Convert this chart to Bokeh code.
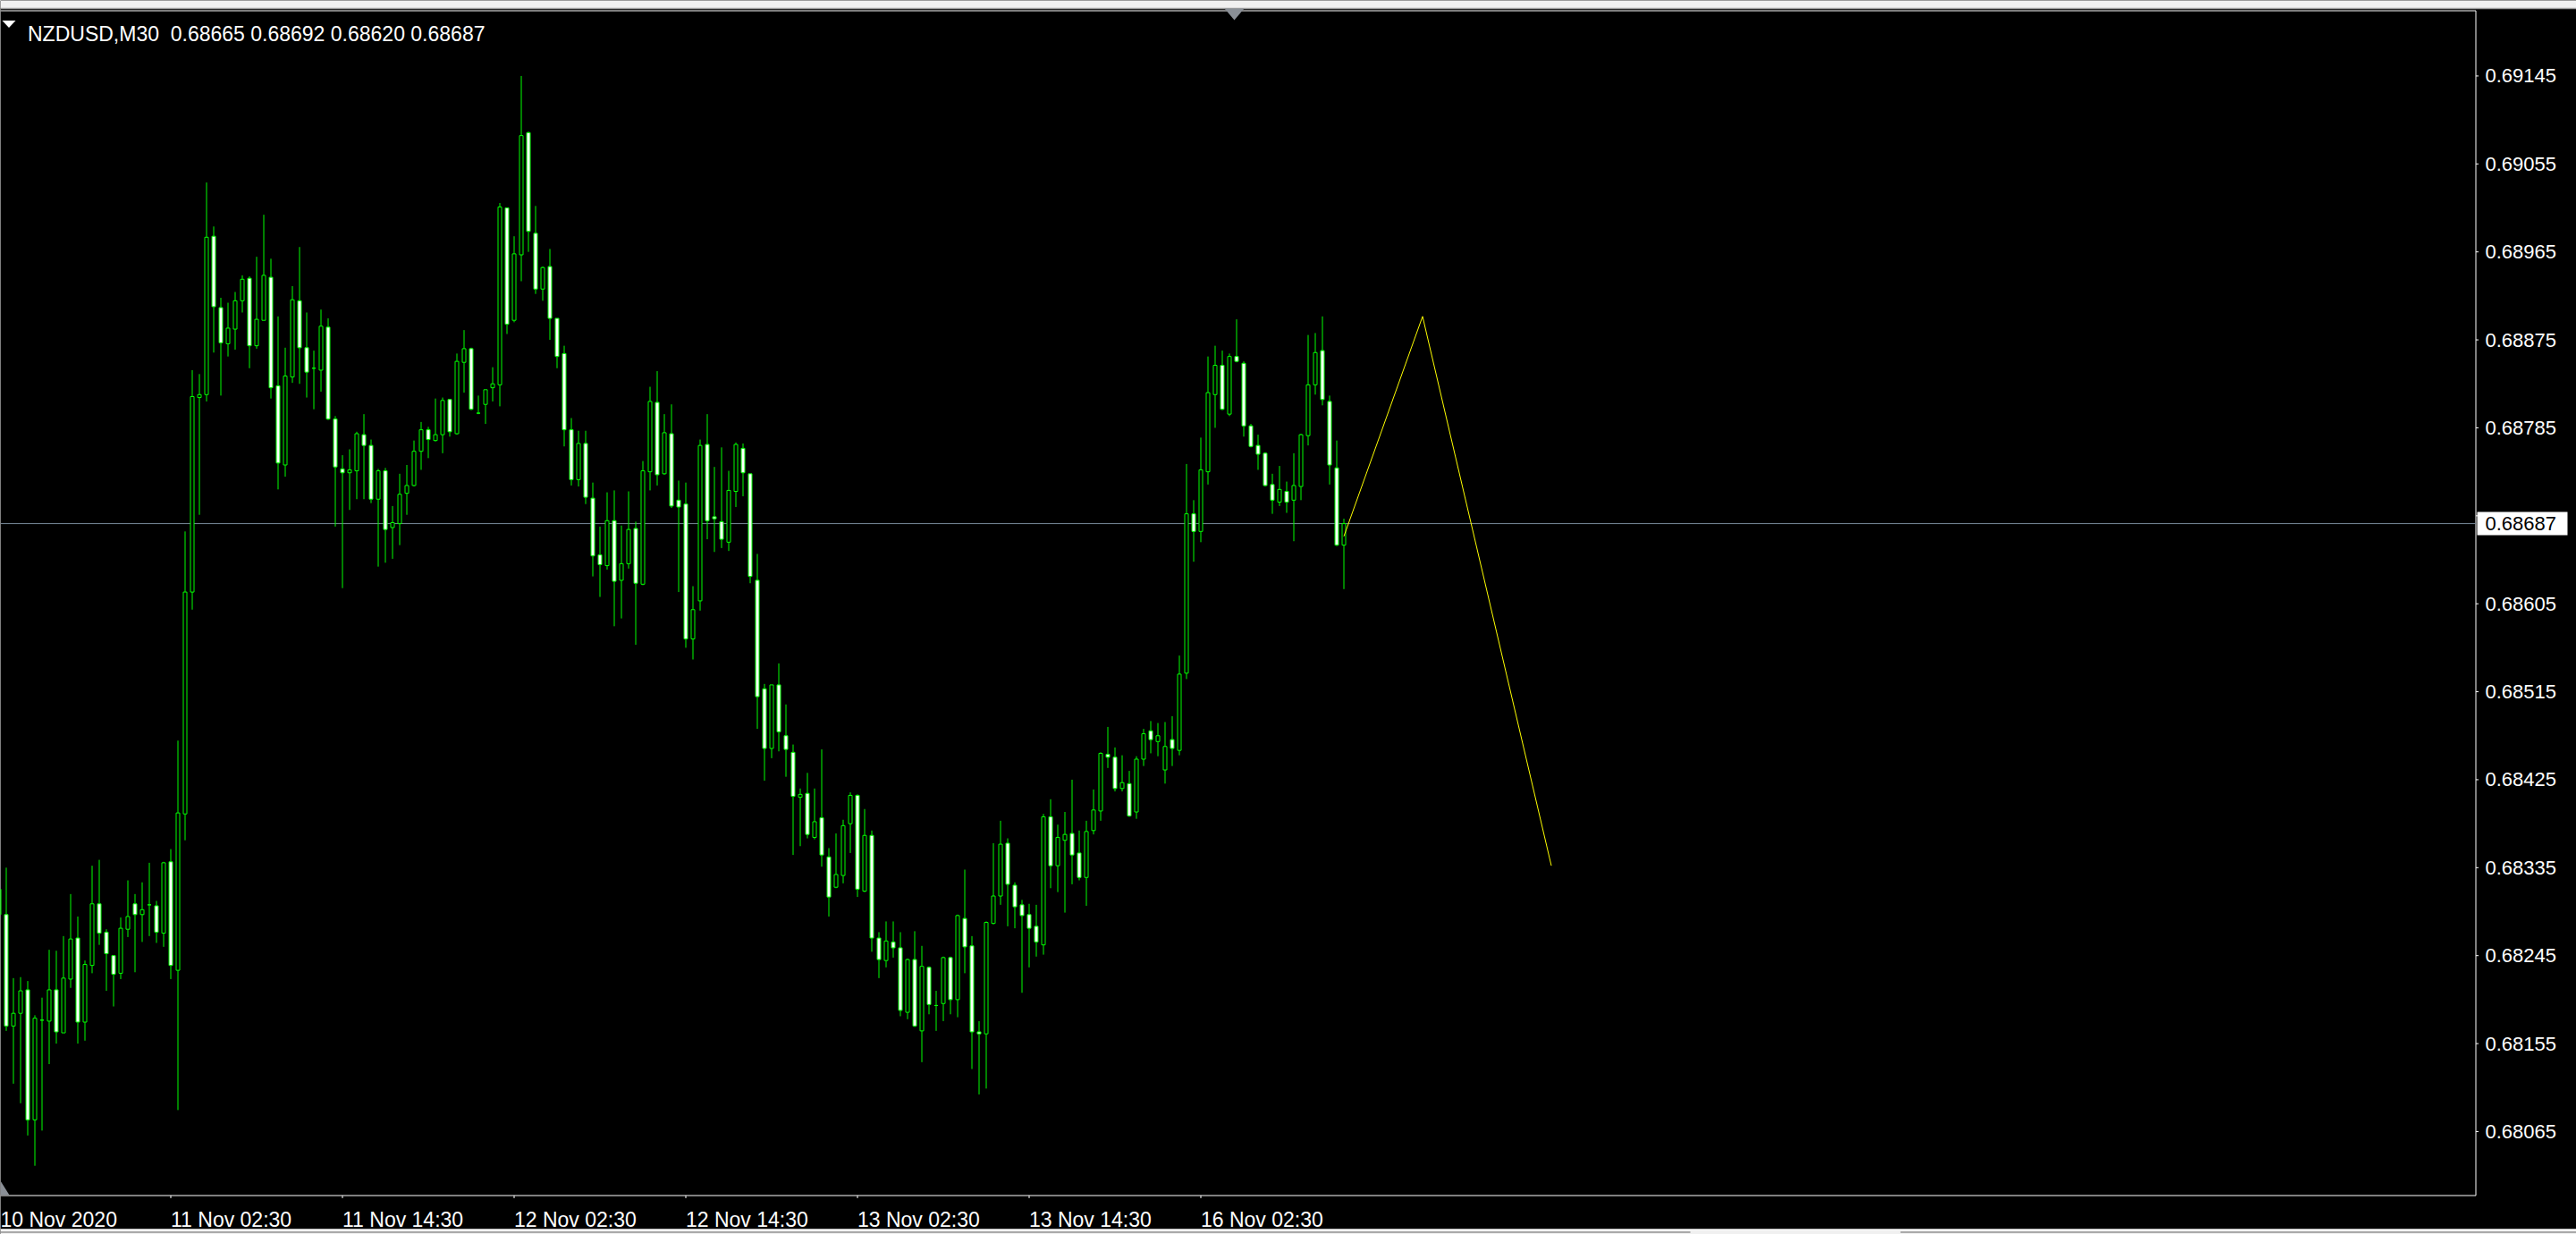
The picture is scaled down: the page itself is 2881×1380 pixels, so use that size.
from bokeh.plotting import figure
from bokeh.models import ColumnDataSource, Range1d
from bokeh.core.properties import value
from bokeh.embed import file_html
from bokeh.resources import INLINE

symbol = "NZDUSD,M30"

opens = [0.68313, 0.68287, 0.68173, 0.68186, 0.68210, 0.68077, 0.68179, 0.68178, 0.68210, 0.68166,
         0.68221, 0.68263, 0.68177, 0.68235, 0.68298, 0.68269, 0.68245, 0.68227, 0.68272, 0.68298,
         0.68287, 0.68297, 0.68296, 0.68268, 0.68341, 0.68230, 0.68390, 0.68617, 0.68816, 0.68819,
         0.68981, 0.68908, 0.68871, 0.68886, 0.68915, 0.68938, 0.68869, 0.68895, 0.68939, 0.68828,
         0.68747, 0.68837, 0.68915, 0.68867, 0.68846, 0.68844, 0.68888, 0.68794, 0.68743, 0.68739,
         0.68741, 0.68778, 0.68767, 0.68712, 0.68741, 0.68683, 0.68687, 0.68718, 0.68726, 0.68761,
         0.68783, 0.68772, 0.68778, 0.68814, 0.68779, 0.68852, 0.68866, 0.68800, 0.68809, 0.68826,
         0.68829, 0.69010, 0.68895, 0.68962, 0.69087, 0.68984, 0.68927, 0.68950, 0.68897, 0.68861,
         0.68783, 0.68732, 0.68769, 0.68713, 0.68655, 0.68644, 0.68690, 0.68629, 0.68646, 0.68682,
         0.68625, 0.68740, 0.68811, 0.68738, 0.68779, 0.68711, 0.68707, 0.68569, 0.68608, 0.68768,
         0.68694, 0.68689, 0.68668, 0.68720, 0.68764, 0.68738, 0.68629, 0.68518, 0.68457, 0.68522,
         0.68470, 0.68453, 0.68407, 0.68411, 0.68366, 0.68386, 0.68346, 0.68315, 0.68327, 0.68380,
         0.68409, 0.68311, 0.68368, 0.68263, 0.68240, 0.68259, 0.68253, 0.68187, 0.68241, 0.68168,
         0.68233, 0.68194, 0.68196, 0.68243, 0.68200, 0.68283, 0.68255, 0.68167, 0.68165, 0.68278,
         0.68306, 0.68360, 0.68317, 0.68297, 0.68287, 0.68275, 0.68256, 0.68387, 0.68337, 0.68363,
         0.68370, 0.68350, 0.68325, 0.68373, 0.68393, 0.68451, 0.68448, 0.68416, 0.68421, 0.68392,
         0.68446, 0.68475, 0.68464, 0.68435, 0.68466, 0.68455, 0.68534, 0.68697, 0.68679, 0.68740,
         0.68819, 0.68849, 0.68799, 0.68858, 0.68851, 0.68787, 0.68767, 0.68759, 0.68727, 0.68709,
         0.68720, 0.68711, 0.68725, 0.68777, 0.68829, 0.68864, 0.68812, 0.68744, 0.68665]

highs = [0.68321, 0.68335, 0.68222, 0.68223, 0.68219, 0.68184, 0.68202, 0.68251, 0.68250, 0.68265,
         0.68308, 0.68285, 0.68240, 0.68337, 0.68343, 0.68272, 0.68245, 0.68284, 0.68322, 0.68308,
         0.68320, 0.68340, 0.68301, 0.68341, 0.68354, 0.68465, 0.68679, 0.68844, 0.68840, 0.69036,
         0.68991, 0.68918, 0.68913, 0.68924, 0.68941, 0.68940, 0.68960, 0.69003, 0.68958, 0.68899,
         0.68867, 0.68930, 0.68970, 0.68903, 0.68864, 0.68906, 0.68897, 0.68797, 0.68757, 0.68763,
         0.68781, 0.68799, 0.68773, 0.68743, 0.68744, 0.68705, 0.68738, 0.68747, 0.68772, 0.68791,
         0.68786, 0.68815, 0.68816, 0.68814, 0.68861, 0.68885, 0.68867, 0.68818, 0.68824, 0.68847,
         0.69015, 0.69010, 0.68981, 0.69145, 0.69088, 0.69012, 0.68950, 0.68968, 0.68897, 0.68869,
         0.68795, 0.68782, 0.68782, 0.68729, 0.68684, 0.68719, 0.68721, 0.68685, 0.68720, 0.68689,
         0.68751, 0.68827, 0.68843, 0.68799, 0.68809, 0.68731, 0.68729, 0.68623, 0.68773, 0.68799,
         0.68745, 0.68765, 0.68741, 0.68770, 0.68769, 0.68738, 0.68656, 0.68523, 0.68522, 0.68544,
         0.68502, 0.68461, 0.68416, 0.68432, 0.68416, 0.68456, 0.68355, 0.68370, 0.68384, 0.68412,
         0.68410, 0.68395, 0.68373, 0.68269, 0.68280, 0.68280, 0.68269, 0.68242, 0.68270, 0.68255,
         0.68234, 0.68209, 0.68244, 0.68244, 0.68287, 0.68333, 0.68265, 0.68178, 0.68280, 0.68360,
         0.68383, 0.68365, 0.68320, 0.68302, 0.68298, 0.68297, 0.68390, 0.68405, 0.68379, 0.68392,
         0.68425, 0.68373, 0.68383, 0.68415, 0.68453, 0.68479, 0.68458, 0.68450, 0.68434, 0.68449,
         0.68477, 0.68485, 0.68483, 0.68484, 0.68490, 0.68552, 0.68748, 0.68711, 0.68775, 0.68858,
         0.68869, 0.68864, 0.68861, 0.68896, 0.68853, 0.68789, 0.68778, 0.68760, 0.68738, 0.68746,
         0.68730, 0.68759, 0.68779, 0.68880, 0.68882, 0.68899, 0.68818, 0.68772, 0.68692]

lows = [0.68280, 0.68168, 0.68114, 0.68094, 0.68061, 0.68030, 0.68066, 0.68134, 0.68155, 0.68166,
        0.68212, 0.68155, 0.68158, 0.68227, 0.68256, 0.68209, 0.68193, 0.68221, 0.68264, 0.68228,
        0.68259, 0.68265, 0.68258, 0.68254, 0.68221, 0.68087, 0.68363, 0.68599, 0.68696, 0.68812,
        0.68862, 0.68818, 0.68858, 0.68865, 0.68903, 0.68846, 0.68866, 0.68895, 0.68815, 0.68722,
        0.68735, 0.68831, 0.68830, 0.68816, 0.68804, 0.68822, 0.68793, 0.68684, 0.68621, 0.68701,
        0.68712, 0.68712, 0.68708, 0.68643, 0.68647, 0.68651, 0.68665, 0.68696, 0.68725, 0.68742,
        0.68754, 0.68771, 0.68759, 0.68776, 0.68778, 0.68821, 0.68803, 0.68799, 0.68789, 0.68812,
        0.68807, 0.68881, 0.68893, 0.68935, 0.68965, 0.68922, 0.68915, 0.68875, 0.68846, 0.68766,
        0.68726, 0.68725, 0.68707, 0.68633, 0.68612, 0.68640, 0.68582, 0.68590, 0.68641, 0.68563,
        0.68624, 0.68721, 0.68726, 0.68737, 0.68703, 0.68617, 0.68560, 0.68548, 0.68598, 0.68671,
        0.68658, 0.68662, 0.68659, 0.68704, 0.68715, 0.68626, 0.68477, 0.68424, 0.68447, 0.68454,
        0.68428, 0.68348, 0.68357, 0.68365, 0.68364, 0.68336, 0.68285, 0.68314, 0.68319, 0.68350,
        0.68305, 0.68310, 0.68249, 0.68222, 0.68233, 0.68243, 0.68183, 0.68180, 0.68172, 0.68136,
        0.68185, 0.68168, 0.68178, 0.68185, 0.68182, 0.68227, 0.68129, 0.68103, 0.68109, 0.68277,
        0.68297, 0.68275, 0.68273, 0.68207, 0.68233, 0.68244, 0.68246, 0.68314, 0.68310, 0.68289,
        0.68318, 0.68322, 0.68296, 0.68369, 0.68383, 0.68437, 0.68413, 0.68413, 0.68387, 0.68385,
        0.68439, 0.68452, 0.68449, 0.68421, 0.68439, 0.68450, 0.68528, 0.68648, 0.68668, 0.68727,
        0.68785, 0.68803, 0.68797, 0.68852, 0.68776, 0.68765, 0.68742, 0.68725, 0.68697, 0.68705,
        0.68698, 0.68669, 0.68711, 0.68767, 0.68819, 0.68808, 0.68727, 0.68664, 0.68620]

closes = [0.68287, 0.68173, 0.68186, 0.68209, 0.68077, 0.68181, 0.68179, 0.68210, 0.68167, 0.68222,
          0.68262, 0.68177, 0.68236, 0.68298, 0.68268, 0.68247, 0.68226, 0.68273, 0.68285, 0.68287,
          0.68292, 0.68297, 0.68269, 0.68340, 0.68235, 0.68391, 0.68617, 0.68817, 0.68819, 0.68980,
          0.68909, 0.68872, 0.68887, 0.68915, 0.68937, 0.68869, 0.68896, 0.68941, 0.68826, 0.68749,
          0.68838, 0.68916, 0.68867, 0.68842, 0.68846, 0.68889, 0.68794, 0.68745, 0.68739, 0.68742,
          0.68779, 0.68767, 0.68712, 0.68741, 0.68681, 0.68688, 0.68717, 0.68726, 0.68761, 0.68783,
          0.68773, 0.68778, 0.68813, 0.68781, 0.68853, 0.68866, 0.68804, 0.68800, 0.68824, 0.68830,
          0.69011, 0.68891, 0.68963, 0.69084, 0.68986, 0.68927, 0.68949, 0.68897, 0.68858, 0.68783,
          0.68732, 0.68769, 0.68714, 0.68654, 0.68645, 0.68690, 0.68628, 0.68646, 0.68681, 0.68626,
          0.68741, 0.68812, 0.68737, 0.68780, 0.68705, 0.68704, 0.68569, 0.68599, 0.68767, 0.68690,
          0.68692, 0.68671, 0.68721, 0.68768, 0.68739, 0.68633, 0.68510, 0.68457, 0.68522, 0.68474,
          0.68456, 0.68408, 0.68410, 0.68369, 0.68382, 0.68348, 0.68305, 0.68328, 0.68378, 0.68409,
          0.68313, 0.68368, 0.68263, 0.68241, 0.68260, 0.68253, 0.68189, 0.68241, 0.68173, 0.68234,
          0.68195, 0.68194, 0.68243, 0.68200, 0.68286, 0.68254, 0.68167, 0.68165, 0.68279, 0.68306,
          0.68359, 0.68318, 0.68295, 0.68286, 0.68273, 0.68259, 0.68387, 0.68337, 0.68366, 0.68369,
          0.68348, 0.68325, 0.68372, 0.68394, 0.68452, 0.68448, 0.68416, 0.68422, 0.68388, 0.68446,
          0.68472, 0.68466, 0.68470, 0.68459, 0.68457, 0.68533, 0.68697, 0.68679, 0.68742, 0.68821,
          0.68849, 0.68804, 0.68858, 0.68853, 0.68787, 0.68766, 0.68758, 0.68726, 0.68711, 0.68722,
          0.68709, 0.68726, 0.68778, 0.68829, 0.68862, 0.68814, 0.68747, 0.68665, 0.68687]

# time axis labels (every 24 bars of 30 minutes)
time_labels = ["10 Nov 2020", "11 Nov 02:30", "11 Nov 14:30", "12 Nov 02:30",
               "12 Nov 14:30", "13 Nov 02:30", "13 Nov 14:30", "16 Nov 02:30"]
label_bars = [0, 24, 48, 72, 96, 120, 144, 168]

# price axis tick labels
price_ticks = [0.69145, 0.69055, 0.68965, 0.68875, 0.68785, 0.68695, 0.68605,
               0.68515, 0.68425, 0.68335, 0.68245, 0.68155, 0.68065]

# yellow projection line
proj_bars = [188, 199, 217]
proj_prices = [0.68674, 0.68899, 0.68337]

# ---------------------------------------------------------------- layout (page pixels)
W, H = 2881, 1380            # Bokeh's page has no body margin: figure fills the window
PPB = 8                      # pixels per bar
X0 = 1.5 / PPB               # bar index at the left page edge
X1 = X0 + W / PPB
KPX = 0.0108 / 1180.5        # price per pixel
Y0 = 0.68000 - (H - 1336) * KPX   # 0.68000 sits on the chart's bottom border
Y1 = Y0 + H * KPX

CHART_R = 2768.5             # right border of chart area
CHART_T = 11.5               # top border
CHART_B = 1336.5             # bottom border


def dx(page_x):
    return X0 + page_x / PPB


def dy(page_y):
    return Y0 + (H - page_y) * KPX


GREEN = "#00ff00"
FONT = value("Liberation Sans")

p = figure(width=W, height=H, output_backend="svg", toolbar_location=None,
           x_range=Range1d(X0, X1), y_range=Range1d(Y0, Y1),
           x_axis_location=None, y_axis_location=None,
           min_border_left=0, min_border_right=0, min_border_top=0, min_border_bottom=0,
           background_fill_color="black", border_fill_color="black",
           outline_line_color=None)
p.grid.visible = False

# window chrome above and below the chart
p.quad(left=[X0], right=[X1], top=[Y1], bottom=[dy(8.5)], fill_color="#f0f0f0", line_color=None)
p.segment(x0=[X0], x1=[X1], y0=[dy(9)], y1=[dy(9)], line_color="#a0a0a0", line_width=1.5)
p.quad(left=[X0], right=[X1], top=[dy(1374)], bottom=[Y0], fill_color="#f0f0f0", line_color=None)
p.segment(x0=[X0], x1=[X1], y0=[dy(1374.5)], y1=[dy(1374.5)], line_color="white", line_width=1)
p.segment(x0=[X0, dx(2125)], x1=[dx(1890), X1], y0=[dy(1377.5)] * 2, y1=[dy(1377.5)] * 2,
          line_color="#646464", line_width=1)

# chart border
p.segment(x0=[X0, dx(CHART_R), X0], y0=[dy(CHART_T), dy(CHART_T), dy(CHART_B)],
          x1=[dx(CHART_R), dx(CHART_R), dx(CHART_R)], y1=[dy(CHART_T), dy(CHART_B), dy(CHART_B)],
          line_color="white", line_width=1)

# current price (bid) line
p.segment(x0=[X0], y0=[closes[-1]], x1=[dx(CHART_R)], y1=[closes[-1]],
          line_color="#778899", line_width=1)

# candles
idx = list(range(len(opens)))
src = ColumnDataSource(dict(
    x=idx, o=opens, h=highs, l=lows, c=closes,
    top=[max(o, c) for o, c in zip(opens, closes)],
    bottom=[min(o, c) for o, c in zip(opens, closes)],
    fill=["black" if c >= o else "white" for o, c in zip(opens, closes)],
))
p.segment(x0="x", y0="l", x1="x", y1="h", source=src, line_color=GREEN, line_width=1)
p.vbar(x="x", width=0.5, top="top", bottom="bottom", source=src,
       fill_color="fill", line_color=GREEN, line_width=1)

# projection line
p.line(proj_bars, proj_prices, line_color="#ffff00", line_width=1)

# price axis: ticks and labels (a label colliding with the current-price box is not drawn)
p.segment(x0=[dx(CHART_R)] * len(price_ticks), x1=[dx(CHART_R + 3)] * len(price_ticks),
          y0=price_ticks, y1=price_ticks, line_color="white", line_width=1)
shown = [t for t in price_ticks if abs(t - closes[-1]) > 20 * KPX]
p.text(x=[dx(2779)] * len(shown), y=shown,
       text=[f"{t:.5f}" for t in shown], text_color="white",
       text_font=FONT, text_font_size=value("22px"),
       text_align="left", text_baseline="middle")

# current price box
p.quad(left=[dx(2770)], right=[dx(2871)], top=[closes[-1] + 13 * KPX],
       bottom=[closes[-1] - 13 * KPX], fill_color="white", line_color=None)
p.text(x=[dx(2779)], y=[closes[-1]], text=[f"{closes[-1]:.5f}"], text_color="black",
       text_font=FONT, text_font_size=value("22px"),
       text_align="left", text_baseline="middle")

# time axis: ticks and labels
tick_x = label_bars[1:]
p.segment(x0=tick_x, x1=tick_x, y0=[dy(CHART_B)] * len(tick_x), y1=[dy(CHART_B + 3)] * len(tick_x),
          line_color="white", line_width=1)
p.text(x=[X0] + label_bars[1:], y=[dy(1363.5)] * len(time_labels), text=time_labels,
       text_color="white", text_font=FONT, text_font_size=value("23px"),
       text_align="left", text_baseline="alphabetic")

# header
header = f"{symbol}\u00a0 {opens[-1]:.5f} {highs[-1]:.5f} {lows[-1]:.5f} {closes[-1]:.5f}"
p.text(x=[dx(30.5)], y=[dy(37.5)], text=[header], text_color="white",
       text_font=FONT, text_font_size=value("23px"),
       text_align="left", text_baseline="alphabetic")
p.patch(x=[dx(2), dx(17), dx(9.5)], y=[dy(22.5), dy(22.5), dy(30.5)],
        fill_color="white", line_color=None)

# chart-shift marker (top) and chart-end marker (bottom-left)
p.patch(x=[dx(1369), dx(1391), dx(1380)], y=[dy(9), dy(9), dy(22)],
        fill_color="#8a8f96", line_color=None)
p.patch(x=[dx(0), dx(10), dx(0)], y=[dy(1336), dy(1336), dy(1320)],
        fill_color="#8a8f96", line_color=None)

open("out.html", "w").write(file_html(p, INLINE))
